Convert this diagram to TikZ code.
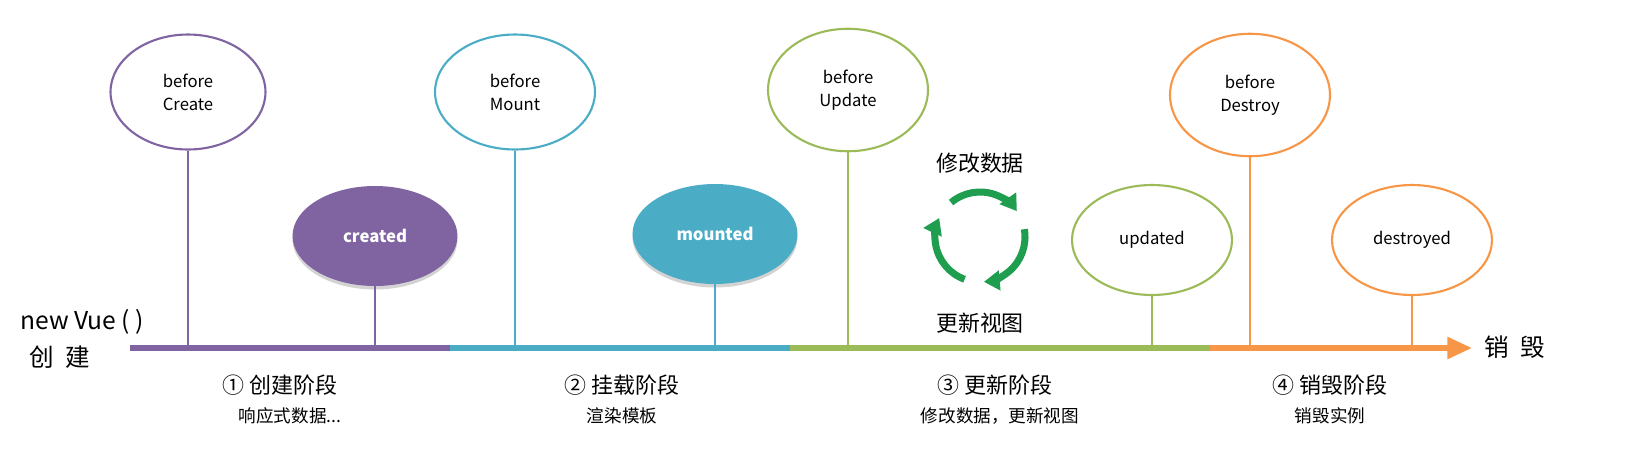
\documentclass[tikz,border=0pt]{standalone}
\usepackage{fontspec}
\setmainfont{Noto Sans CJK SC}
\usetikzlibrary{shapes.geometric,arrows.meta,shadows}
\definecolor{vpurple}{HTML}{8064A2}
\definecolor{vblue}{HTML}{4BACC6}
\definecolor{vgreen}{HTML}{9BBB59}
\definecolor{vorange}{HTML}{F79646}
\definecolor{cyclegreen}{HTML}{1E9E4E}
\tikzset{
  hook/.style={ellipse,draw=#1,line width=1.2pt,fill=white,minimum width=3.2cm,minimum height=2.3cm,font=\fontsize{9.5}{13}\selectfont,align=center},
  donehook/.style={ellipse,fill=#1,draw=none,minimum width=3.3cm,minimum height=2cm,font=\bfseries\fontsize{9.5}{12}\selectfont,text=white,drop shadow={opacity=0.35,shadow xshift=0pt,shadow yshift=-2pt}},
  stem/.style={draw=#1,line width=1.2pt},
  phase/.style={font=\fontsize{12.5}{14}\selectfont},
  note/.style={font=\fontsize{10}{12}\selectfont}
}
\begin{document}
\begin{tikzpicture}[x=0.02cm,y=-0.02cm]
\useasboundingbox (0,0) rectangle (1634,461);
% axis points
\coordinate (a0) at (130,348);
\coordinate (a1) at (450,348);
\coordinate (a2) at (790,348);
\coordinate (a3) at (1210,348);
\coordinate (a4) at (1472,348);
\draw[vpurple,line width=3pt] (a0) -- (a1);
\draw[vblue,line width=3pt] (a1) -- (a2);
\draw[vgreen,line width=3pt] (a2) -- (a3);
\draw[vorange,line width=3pt,-{Triangle[length=14pt,width=12pt]}] (a3) -- (a4);
% hooks
\node[hook=vpurple,minimum width=3.1cm] (bc) at (188,92) {before\\Create};
\node[donehook=vpurple] (cd) at (375,236) {created};
\node[hook=vblue] (bm) at (515,92) {before\\Mount};
\node[donehook=vblue] (md) at (715,234) {mounted};
\node[hook=vgreen,minimum height=2.45cm] (bu) at (848,90) {before\\Update};
\node[hook=vgreen,minimum height=2.2cm] (ud) at (1152,240) {updated};
\node[hook=vorange,minimum height=2.45cm] (bd) at (1250,95) {before\\Destroy};
\node[hook=vorange,minimum height=2.2cm] (dd) at (1412,240) {destroyed};
% stems
\draw[stem=vpurple] (bc.south) -- (bc.south |- a0);
\draw[stem=vpurple] (cd.south) -- (cd.south |- a0);
\draw[stem=vblue] (bm.south) -- (bm.south |- a0);
\draw[stem=vblue] (md.south) -- (md.south |- a0);
\draw[stem=vgreen] (bu.south) -- (bu.south |- a0);
\draw[stem=vgreen] (ud.south) -- (ud.south |- a0);
\draw[stem=vorange] (bd.south) -- (bd.south |- a0);
\draw[stem=vorange] (dd.south) -- (dd.south |- a0);
% update cycle
\coordinate (cyc) at (980,237);
\foreach \s in {0,120,240}
  \draw[cyclegreen,line width=4pt,-{Triangle[length=9pt,width=11pt]}]
    ([shift={(-130+\s:45)}]cyc) arc[start angle=-130+\s,end angle=-35+\s,radius=45];
\node[phase] (chg) at (980,163) {修改数据};
\node[phase] (rnd) at (980,323) {更新视图};
% ends
\node[font=\fontsize{14}{16}\selectfont] (nv) at (82,322) {new Vue ( )};
\node[font=\fontsize{14}{16}\selectfont] (cj) at (60,357) {创\ \ 建};
\node[font=\fontsize{14}{16}\selectfont] (xh) at (1515,347) {销\ \ 毁};
% phases
\node[phase] (p1) at (280,385) {① 创建阶段};
\node[note] (n1) at (290,416) {响应式数据...};
\node[phase] (p2) at (622,385) {② 挂载阶段};
\node[note] (n2) at (622,416) {渲染模板};
\node[phase] (p3) at (995,385) {③ 更新阶段};
\node[note] (n3) at (1000,416) {修改数据，更新视图};
\node[phase] (p4) at (1330,385) {④ 销毁阶段};
\node[note] (n4) at (1330,416) {销毁实例};
\end{tikzpicture}
\end{document}
